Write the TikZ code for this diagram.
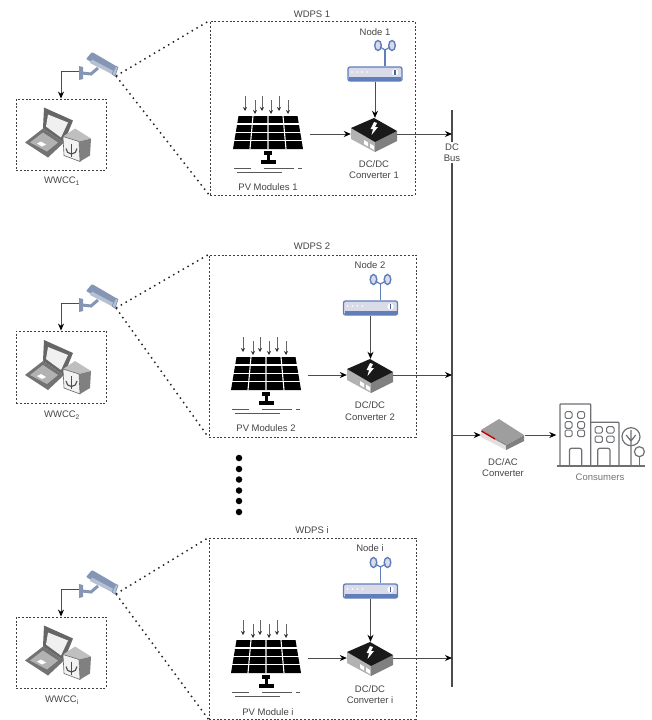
\documentclass[tikz,border=0pt]{standalone}
\usepackage{fontspec}
\setmainfont{Liberation Sans}
\usetikzlibrary{arrows.meta}
\definecolor{txtgray}{HTML}{444444}
\definecolor{camblue}{HTML}{8496B3}
\definecolor{campale}{HTML}{B4C0D3}
\definecolor{rtrblue}{HTML}{5F7EBA}
\definecolor{rtrfill}{HTML}{D9DCE8}
\definecolor{bldgray}{HTML}{6E7073}
\tikzset{
  lbl/.style={font=\fontsize{9.5}{11.5}\selectfont, text=txtgray, align=center, inner sep=0pt},
  conn/.style={draw=black!70, line width=0.9pt, -{Stealth[length=7pt,width=6pt,color=black]}},
  sunray/.style={draw=black!60, line width=0.8pt, -{Stealth[length=4pt,width=4pt,color=black!80]}},
  framebox/.style={draw=black!75, line width=0.9pt, dash pattern=on 2pt off 1.8pt, inner sep=0pt},
  viewline/.style={draw=black!85, line width=1.5pt, dash pattern=on 1.5pt off 4pt},
  iconbox/.style={inner sep=0pt},
  dotmark/.style={circle, fill=black, inner sep=0pt, minimum size=6.5pt},
  pics/pvpanel/.style={code={
      % origin is the middle of the top edge
      \fill (-29.5,0) -- (29.5,0) -- (35,33) -- (-35,33) -- cycle;
      \draw[white, line width=1.1pt] (-32,8) -- (32,8) (-33,16.5) -- (33,16.5) (-34,24.5) -- (34,24.5);
      \draw[white, line width=1.1pt] (-15,0) -- (-18,33) (0,0) -- (0,33) (15,0) -- (18,33);
      \draw[sunray] (-23,-20) -- (-23,-5);
      \draw[sunray] (-13,-16) -- (-13,-2);
      \draw[sunray] (-6,-20) -- (-6,-5);
      \draw[sunray] (3,-16) -- (3,-2);
      \draw[sunray] (11,-20) -- (11,-5);
      \draw[sunray] (20,-16) -- (20,-2);
      \fill (-4,35) rectangle (4,39);
      \fill (-1.5,39) rectangle (1.5,44);
      \fill (-7.5,44) rectangle (7.5,48);
      \draw[black!65, line width=0.9pt] (-34,52) -- (-17,52) (-4,52) -- (26,52) (30,52) -- (34,52);
      \draw[black!65, line width=0.9pt] (-31,56) -- (14,56);
  }},
  pics/dcconv/.style={code={
      \fill[black!30] (-23,-6) -- (1,8) -- (1,18) -- (-23,5) -- cycle;
      \fill[black!50] (1,8) -- (23,-3) -- (23,7) -- (1,18) -- cycle;
      \fill[black!90] (-23,-6) -- (0,-16) -- (23,-3) -- (1,8) -- cycle;
      \fill[white] (0,-12) -- (-3.5,-5) -- (-1,-5) -- (-2.5,1) -- (4,-7) -- (1,-7) -- (3,-11) -- cycle;
      \fill[white] (-10,6) -- (-6,8.5) -- (-6,12.5) -- (-10,10) -- cycle;
      \fill[white] (-4,9.5) -- (0,12) -- (0,16) -- (-4,13.5) -- cycle;
  }},
  pics/acconv/.style={code={
      \fill[black!12] (-22,-5) -- (3,10) -- (3,15) -- (-22,2) -- cycle;
      \fill[black!50] (3,10) -- (21,0) -- (21,6) -- (3,15) -- cycle;
      \fill[black!38] (-22,-5) -- (-4,-16) -- (21,0) -- (3,10) -- cycle;
      \draw[red!75!black, line width=1.4pt] (-21.5,-4) -- (-8,4);
      \draw[black!55, line width=0.6pt] (-8,4) -- (3,10);
  }},
  pics/rtr/.style={code={
      \draw[rtrblue, line width=1.6pt] (10,-8) -- (10,-24);
      \draw[rtrblue, line width=1.4pt, fill=rtrfill] (3,-28.5) ellipse (3.3 and 5);
      \draw[rtrblue, line width=1.4pt, fill=rtrfill] (17,-28.5) ellipse (3.3 and 5);
      \draw[rtrblue, line width=1.2pt] (5,-27) -- (10,-24) -- (15,-27);
      \draw[rtrblue, line width=1.3pt, fill=rtrfill, rounded corners=2pt] (-27,-7) rectangle (27,7);
      \fill[rtrblue] (-26,3) rectangle (26,6.5);
      \foreach \dx in {-23,-18,-13,-8} \fill[white] (\dx,-2) circle (0.8);
      \fill[white] (20,-1.5) circle (3.2);
      \fill[rtrblue!80!black] (19.3,-4) rectangle (20.7,1);
  }},
  pics/cctv/.style={code={
      % origin is the lens
      \fill[camblue] (-36,-10) -- (-32,-9) -- (-32,3) -- (-36,4) -- cycle;
      \draw[camblue, line width=3pt] (-33,-3) -- (-24,-2) -- (-17,-8);
      \fill[camblue, rounded corners=1pt] (-29,-17) -- (-23,-24) -- (1,-10) -- (-3,-2) -- cycle;
      \fill[campale] (-25,-13) -- (-3,-2) -- (-1.5,-5) -- (-23,-16.5) -- cycle;
      \fill[campale] (-3,-2) -- (1,-10) -- (3,-8.5) -- (0,0) -- cycle;
      \draw[camblue, line width=0.7pt] (-3,-2) -- (1,-10) -- (3,-8.5) -- (0,0) -- cycle;
  }},
  pics/wwccset/.style={code={
      % laptop
      \fill[black!60] (-17,-27) -- (12,-14) -- (3,8) -- (-18,-6) -- cycle;
      \fill[black!6] (-13,-20) -- (7,-12) -- (0,3) -- (-15,-8) -- cycle;
      \fill[black!55] (-36,8) -- (-18,-6) -- (3,8) -- (-13,23) -- cycle;
      \fill[black!30] (-31,8) -- (-18,-2) -- (-3,8) -- (-14,17) -- cycle;
      \fill[white] (-24,9) -- (-20,7) -- (-15,10) -- (-19,12) -- cycle;
      % lock box
      \fill[black!25] (2,2) -- (14,-6) -- (30,4) -- (18,7) -- cycle;
      \fill[black!50] (18,7) -- (30,4) -- (29,21) -- (19,27) -- cycle;
      \fill[black!5] (2,2) -- (18,7) -- (19,27) -- (3,21) -- cycle;
      \draw[black!60, line width=0.6pt] (2,2) -- (18,7) -- (19,27) -- (3,21) -- cycle;
      \draw[black!70, line width=1.1pt] (5,14) arc[start angle=180, end angle=0, radius=5.5];
      \draw[black!70, line width=1.5pt] (10.5,9) -- (10.5,22);
  }},
  pics/bldgs/.style={code={
      % origin is the left end of the ground line
      \draw[bldgray, line width=1.2pt, rounded corners=0.8pt] (3.3,0) -- (3.3,-62) -- (34,-62) -- (34,0);
      \draw[bldgray, line width=1.2pt, rounded corners=0.8pt] (34,-43.7) -- (62.3,-43.7) -- (62.3,0);
      \draw[bldgray, line width=1.2pt] (0,0) -- (88,0);
      \foreach \wx in {8.3,21}
        \foreach \wy in {-54.3,-44.3,-36}
          \draw[bldgray, line width=1pt, rounded corners=1.5pt] (\wx,\wy) rectangle ++(7,6.6);
      \foreach \wx in {38.3,50}
        \foreach \wy in {-39.3,-30}
          \draw[bldgray, line width=1pt, rounded corners=1.5pt] (\wx,\wy) rectangle ++(7.4,6.4);
      \draw[bldgray, line width=1.2pt, rounded corners=2pt] (12.7,0) -- (12.7,-17.7) -- (25,-17.7) -- (25,0);
      \draw[bldgray, line width=1.2pt, rounded corners=2pt] (41,0) -- (41,-17.7) -- (53.3,-17.7) -- (53.3,0);
      \draw[bldgray, line width=1.2pt] (74.3,-29.3) circle (9);
      \draw[bldgray, line width=1.2pt] (74.3,-36) -- (74.3,0) (74.3,-25) -- (69.5,-31) (74.3,-25) -- (79,-31);
      \draw[bldgray, line width=1.2pt, fill=white] (82.7,-14.3) circle (5);
      \draw[bldgray, line width=1.2pt] (82.7,-9.3) -- (82.7,0);
  }}
}
\begin{document}
\begin{tikzpicture}[x=1pt,y=-1pt]
  \useasboundingbox (0,0) rectangle (652,720);

  % frames
  \node[framebox, minimum width=205pt, minimum height=174pt] (wdps1) at (312.5,108) {};
  \node[framebox, minimum width=207pt, minimum height=182pt] (wdps2) at (312.5,346) {};
  \node[framebox, minimum width=207pt, minimum height=181pt] (wdps3) at (312.5,628.5) {};
  \node[framebox, minimum width=90pt, minimum height=71pt] (wwcc1) at (61,134.5) {};
  \node[framebox, minimum width=90pt, minimum height=72pt] (wwcc2) at (61,367) {};
  \node[framebox, minimum width=90pt, minimum height=71pt] (wwcc3) at (61,652.5) {};

  \node[lbl] (wdpslbl1) at (312,14) {WDPS 1};
  \node[lbl] (wdpslbl2) at (312,246) {WDPS 2};
  \node[lbl] (wdpslbl3) at (312,530) {WDPS i};
  \node[lbl] (wwcclbl1) at (62,181) {WWCC\textsubscript{1}};
  \node[lbl] (wwcclbl2) at (62,415) {WWCC\textsubscript{2}};
  \node[lbl] (wwcclbl3) at (62,700) {WWCC\textsubscript{i}};

  % cameras
  \pic at (115,76) {cctv};
  \pic at (115,308) {cctv};
  \pic at (115,594) {cctv};
  \coordinate (lens1) at (116,76);
  \coordinate (lens2) at (116,308);
  \coordinate (lens3) at (116,594);
  \coordinate (mount1) at (79,71);
  \coordinate (mount2) at (79,303);
  \coordinate (mount3) at (79,589);
  \draw[viewline] (lens1) -- (wdps1.north west);
  \draw[viewline] (lens1) -- (wdps1.south west);
  \draw[viewline] (lens2) -- (wdps2.north west);
  \draw[viewline] (lens2) -- (wdps2.south west);
  \draw[viewline] (lens3) -- (wdps3.north west);
  \draw[viewline] (lens3) -- (wdps3.south west);
  \draw[conn] (mount1) -| (wwcc1.north);
  \draw[conn] (mount2) -| (wwcc2.north);
  \draw[conn] (mount3) -| (wwcc3.north);
  \pic at (wwcc1) {wwccset};
  \pic at (wwcc2) {wwccset};
  \pic at (wwcc3) {wwccset};

  % PV modules
  \node[iconbox, minimum width=84pt, minimum height=36pt] (pv1) at (268,134) {};
  \node[iconbox, minimum width=84pt, minimum height=36pt] (pv2) at (266,375) {};
  \node[iconbox, minimum width=84pt, minimum height=36pt] (pv3) at (266,658) {};
  \pic at (268,116) {pvpanel};
  \pic at (266,357) {pvpanel};
  \pic at (266,640) {pvpanel};
  \node[lbl] (pvlbl1) at (268,187) {PV Modules 1};
  \node[lbl] (pvlbl2) at (266,428) {PV Modules 2};
  \node[lbl] (pvlbl3) at (268,712) {PV Module i};

  % DC/DC converters
  \node[iconbox, minimum width=46pt, minimum height=32pt] (conv1) at (374,134) {};
  \node[iconbox, minimum width=46pt, minimum height=32pt] (conv2) at (370,375) {};
  \node[iconbox, minimum width=46pt, minimum height=32pt] (conv3) at (370,658) {};
  \pic at (conv1) {dcconv};
  \pic at (conv2) {dcconv};
  \pic at (conv3) {dcconv};
  \node[lbl] (convlbl1) at (374,169.5) {DC/DC\\Converter 1};
  \node[lbl] (convlbl2) at (370,411) {DC/DC\\Converter 2};
  \node[lbl] (convlbl3) at (370,694.5) {DC/DC\\Converter i};

  % nodes
  \node[iconbox, minimum width=55pt, minimum height=15pt] (rtr1) at (375,74) {};
  \node[iconbox, minimum width=55pt, minimum height=15pt] (rtr2) at (370.5,308) {};
  \node[iconbox, minimum width=55pt, minimum height=15pt] (rtr3) at (370.5,591) {};
  \pic at (rtr1) {rtr};
  \pic at (rtr2) {rtr};
  \pic at (rtr3) {rtr};
  \node[lbl] (rtrlbl1) at (375,32) {Node 1};
  \node[lbl] (rtrlbl2) at (370,265) {Node 2};
  \node[lbl] (rtrlbl3) at (370,548) {Node i};

  % DC bus
  \coordinate (bustop) at (452,110);
  \coordinate (busbot) at (452,687);
  \draw[black!70, line width=1.7pt] (bustop) -- (busbot);
  \node[lbl, fill=white, inner ysep=1pt] (buslbl) at (452,152.5) {DC\\Bus};

  \draw[conn] (pv1.east) -- (conv1.west);
  \draw[conn] (pv2.east) -- (conv2.west);
  \draw[conn] (pv3.east) -- (conv3.west);
  \draw[conn] (rtr1.south) -- (rtr1.south |- conv1.north);
  \draw[conn] (rtr2.south) -- (rtr2.south |- conv2.north);
  \draw[conn] (rtr3.south) -- (rtr3.south |- conv3.north);
  \draw[conn] (conv1.east) -- (conv1.east -| bustop);
  \draw[conn] (conv2.east) -- (conv2.east -| bustop);
  \draw[conn] (conv3.east) -- (conv3.east -| bustop);

  % inverter and load
  \node[iconbox, minimum width=44pt, minimum height=31pt] (acconv) at (503,435) {};
  \pic at (acconv) {acconv};
  \node[lbl] (aclbl) at (503,467.5) {DC/AC\\Converter};
  \node[iconbox, minimum width=94pt, minimum height=62pt] (cons) at (603.5,435) {};
  \pic at (556.7,466) {bldgs};
  \node[lbl, text=black!55] (conslbl) at (600,477) {Consumers};
  \draw[conn] (acconv.west -| bustop) -- (acconv.west);
  \draw[conn] (acconv.east) -- (cons.west);

  % the omitted rows
  \node[dotmark] (dot1) at (239,458) {};
  \node[dotmark] (dot2) at (239,469) {};
  \node[dotmark] (dot3) at (239,479.5) {};
  \node[dotmark] (dot4) at (239,490.5) {};
  \node[dotmark] (dot5) at (239,501) {};
  \node[dotmark] (dot6) at (239,512) {};
\end{tikzpicture}
\end{document}
